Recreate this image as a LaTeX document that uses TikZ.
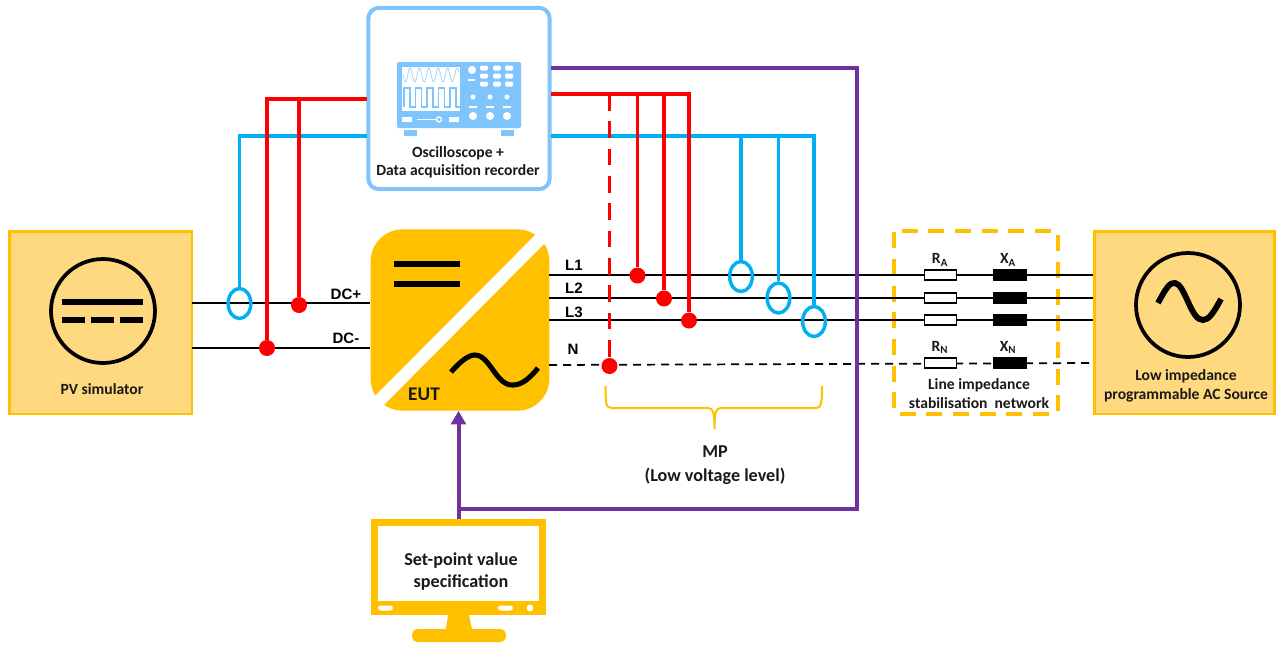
\documentclass[tikz,border=0pt]{standalone}
\usepackage{fontspec}
\setmainfont{Carlito}
\setsansfont{Liberation Sans}
\definecolor{eutorange}{HTML}{FFC000}
\definecolor{boxfill}{HTML}{FFD97F}
\definecolor{scopeblue}{HTML}{7FC4FD}
\definecolor{probeblue}{HTML}{00B0F0}
\definecolor{setpurple}{HTML}{7030A0}
\tikzset{
    wire/.style={black, line width=1.4pt},
    neutral/.style={black, line width=1.3pt, dash pattern=on 6pt off 4.5pt},
    redprobe/.style={red, line width=2.8pt},
    blueprobe/.style={probeblue, line width=2.6pt},
    setline/.style={setpurple, line width=3pt},
    dot/.style={circle, fill=red, inner sep=0pt, minimum size=12pt},
    clamp/.style={ellipse, draw=probeblue, line width=2.6pt, inner sep=0pt, minimum width=17pt, minimum height=22.5pt},
    srcbox/.style={draw=eutorange, fill=boxfill, line width=2pt, inner sep=0pt, minimum width=137pt, minimum height=137pt},
    srccircle/.style={circle, draw=black, line width=2.8pt, inner sep=0pt, minimum size=78pt},
    heavy/.style={black, line width=4.5pt},
    sinewave/.style={black, line width=3.8pt},
    lab/.style={font=\bfseries\fontsize{11.7}{13.5}\selectfont, text=black!90, inner sep=0pt, align=center},
    biglab/.style={lab, font=\bfseries\fontsize{13.6}{16}\selectfont},
    wirelab/.style={font=\sffamily\bfseries\fontsize{11.3}{13}\selectfont, inner sep=0pt},
    resistor/.style={draw=black, fill=white, line width=1.3pt, inner sep=0pt, minimum width=24pt, minimum height=7pt},
    reactor/.style={draw=black, fill=black, inner sep=0pt, minimum width=25pt, minimum height=8pt},
    iconbtn/.style={fill=white, rounded corners=1pt},
    iconpart/.style={fill=scopeblue}
}
\usetikzlibrary{shapes.geometric,arrows.meta,calc}
\begin{document}
\begin{tikzpicture}[x=0.75pt,y=-0.75pt]

    \useasboundingbox (0,0) rectangle (1282,644);

    % boxes
    \node[srcbox] (pv) at (100.5,322.5) {};
    \node[srcbox, minimum width=135pt] (ac) at (1184.5,322.5) {};
    \node[draw=scopeblue, fill=white, line width=3pt, rounded corners=8pt, inner sep=0pt,
        minimum width=136pt, minimum height=136pt] (scope) at (459,98.5) {};
    \node[fill=eutorange, rounded corners=24pt, inner sep=0pt,
        minimum width=134pt, minimum height=136pt] (eut) at (460,320) {};
    \draw[draw=eutorange, line width=3pt, dash pattern=on 12pt off 8pt, rounded corners=1pt]
        (894,231) rectangle (1058,414);

    % monitor
    \node[draw=eutorange, fill=white, line width=5pt, inner sep=0pt,
        minimum width=126pt, minimum height=62pt] (monitor) at (458.5,564) {};
    \fill[eutorange] (371,601) rectangle (546,615);
    \fill[eutorange] (448,615) -- (446,629) -- (472,629) -- (469,615) -- cycle;
    \fill[eutorange, rounded corners=4pt] (412,642) -- (412,629) -- (506,629) -- (506,642) -- cycle;
    \fill[white, rounded corners=2pt] (378,605.5) rectangle (393,610.5);
    \fill[white, rounded corners=2pt] (498,605.5) rectangle (513,610.5);
    \fill[white] (530,608) circle (3.5);

    % named points on the wires
    \coordinate (dcp) at (192,303);
    \coordinate (dcn) at (192,348);
    \coordinate (l1) at (549,275);
    \coordinate (l2) at (549,298);
    \coordinate (l3) at (549,320);
    \coordinate (n) at (549,365);
    \coordinate (redl) at (367,99);
    \coordinate (redr) at (551,94);
    \coordinate (bluel) at (367,136);
    \coordinate (bluer) at (551,136);
    \coordinate (purr) at (551,67.5);
    \coordinate (purc) at (857,67.5);
    \coordinate (purb) at (857,509);

    % wires
    \draw[wire] (dcp) -- (dcp -| eut.west);
    \draw[wire] (dcn) -- (dcn -| eut.west);
    \draw[wire] (l1) -- (l1 -| ac.west);
    \draw[wire] (l2) -- (l2 -| ac.west);
    \draw[wire] (l3) -- (l3 -| ac.west);
    \draw[neutral] (n) -- (1094,363);

    % impedance network
    \foreach \name/\ypos in {a/275, b/298, c/320, d/363}{
        \node[resistor] (r\name) at (940.5,\ypos) {};
        \node[reactor] (x\name) at (1010,\ypos) {};
    }
    \node[lab] (ralab) at (940,260) {R\textsubscript{A}};
    \node[lab] (xalab) at (1008,260) {X\textsubscript{A}};
    \node[lab] (rnlab) at (940,347.5) {R\textsubscript{N}};
    \node[lab] (xnlab) at (1008,347.5) {X\textsubscript{N}};
    \node[lab] (lisn) at (979,394) {Line impedance\\[0.7pt]stabilisation\ \ network};

    % voltage probes
    \node[dot] (dot1) at (299,305) {};
    \node[dot] (dot2) at (267,348) {};
    \node[dot] (dot3) at (637.5,275.5) {};
    \node[dot] (dot4) at (664,298.5) {};
    \node[dot] (dot5) at (689,320.5) {};
    \node[dot] (dot6) at (609.5,366) {};

    % current probes
    \node[clamp] (cl1) at (239.5,303.5) {};
    \node[clamp] (cl2) at (741,276.5) {};
    \node[clamp] (cl3) at (778.5,298) {};
    \node[clamp] (cl4) at (814,321.5) {};

    \draw[blueprobe] (bluel) -- (bluel -| cl1) -- (cl1.north);
    \draw[blueprobe] (bluer) -- (bluer -| cl4) -- (cl4.north);
    \draw[blueprobe] (cl2 |- bluer) -- (cl2.north);
    \draw[blueprobe] (cl3 |- bluer) -- (cl3.north);

    \draw[redprobe] (redl) -- (dot2 |- redl) -- (dot2);
    \draw[redprobe] (dot1 |- redl) -- (dot1);
    \draw[redprobe] (redr) -- (dot5 |- redr) -- (dot5);
    \draw[redprobe] (dot3 |- redr) -- (dot3);
    \draw[redprobe] (dot4 |- redr) -- (dot4);
    \draw[redprobe, dash pattern=on 12.5pt off 8pt] (dot6 |- redr) -- (dot6);

    % set-point line
    \draw[setline] (purr) -- (purc) -- (purb) -- (purb -| monitor.north);
    \draw[setline, -{Triangle[length=10pt,width=11pt]}] (monitor.north) -- (monitor.north |- eut.south);

    % PV symbol
    \node[srccircle] (pvsym) at (103,311) {};
    \draw[heavy] (62,302) -- (143,302);
    \draw[heavy, dash pattern=on 17pt off 4.75pt] (62,320) -- (143,320);
    \node[lab] (pvtxt) at (102,389.5) {PV simulator};

    % AC symbol
    \node[srccircle] (acsym) at (1188,305) {};
    \draw[black, line width=4.4pt] (1158,303) .. controls (1166,288) and (1170,282) .. (1175,283)
        .. controls (1185,284) and (1191,321) .. (1203,320) .. controls (1209,320) and (1214,312) .. (1221,299);
    \node[lab] (actxt) at (1186,386) {Low impedance\\[0.7pt]programmable AC Source};

    % converter symbol
    \draw[white, line width=9.5pt] (556,223) -- (364,416);
    \draw[heavy] (394,264) -- (460,264);
    \draw[heavy] (394,284) -- (460,284);
    \draw[sinewave] (451,372) .. controls (460,362) and (468,355) .. (475,355)
        .. controls (490,355) and (496,386) .. (513,385) .. controls (522,385) and (530,378) .. (538,368);
    \node[lab, font=\bfseries\fontsize{14.5}{16}\selectfont] (euttxt) at (424,394) {EUT};

    % wire labels
    \node[wirelab] (dcplab) at (346,294) {DC+};
    \node[wirelab] (dcnlab) at (346,338) {DC-};
    \node[wirelab] (l1lab) at (574,265) {L1};
    \node[wirelab] (l2lab) at (574,288.5) {L2};
    \node[wirelab] (l3lab) at (574,312) {L3};
    \node[wirelab] (nlab) at (573,349.5) {N};

    % MP brace
    \draw[eutorange, line width=1.5pt] (605.5,386) .. controls (605.5,404) and (606,408) .. (612,408)
        -- (708,408) .. controls (713,408) and (714.5,412) .. (714.5,429)
        .. controls (714.5,412) and (716,408) .. (721,408) -- (816,408)
        .. controls (821,408) and (822,404) .. (822,386);
    \node[biglab] (mptxt) at (715,465) {MP\\[2.5pt](Low voltage level)};

    % oscilloscope icon
    \fill[iconpart, rounded corners=1pt] (397,62) rectangle (521,128);
    \fill[iconpart] (404,130) rectangle (417,136);
    \fill[iconpart] (501,130) rectangle (514,136);
    \fill[white] (402,67) rectangle (460,111);
    \draw[scopeblue!70, line width=0.6pt, domain=403:459, samples=120, smooth]
        plot (\x,{75+7*sin(2*pi*(\x-403)/9.4 r)});
    \draw[scopeblue, line width=1pt] (404,107) -- (404,88)
        foreach \xa in {0,1,2,3,4}{ -- ++(6,0) -- ++(0,19) -- ++(5.5,0) -- ++(0,-19)};
    \fill[white] (402,117) rectangle (412,122);
    \fill[white] (449,117) rectangle (459,122);
    \draw[white, line width=0.9pt] (417,119.5) -- (436,119.5);
    \draw[white, line width=1pt] (439,119.5) circle (2.5);
    \fill[white] (472,70) circle (4);
    \fill[white] (468,79) rectangle (475,81);
    \foreach \xa in {484,497,509}{
        \foreach \ya in {68,76,84}{
            \fill[iconbtn] (\xa-4,\ya-2.5) rectangle (\xa+4,\ya+2.5);
        }
    }
    \foreach \xa in {473,490,507}{
        \fill[white] (\xa,97) circle (2.5);
        \fill[white] (\xa-4,105.5) rectangle (\xa+4,108);
        \fill[white] (\xa,116) circle (4);
    }
    \node[lab] (scopetxt) at (458,162.5) {Oscilloscope +\\Data acquisition recorder};

    \node[biglab] (montxt) at (461,571.5) {Set-point value\\specification};

\end{tikzpicture}
\end{document}
